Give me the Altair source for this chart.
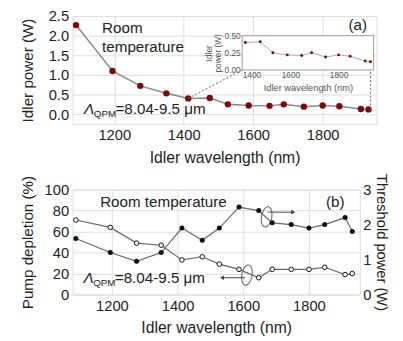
import altair as alt
import pandas as pd

FONT = "Liberation Sans"

# ---- data ----
wavelength = [1090, 1195, 1275, 1350, 1413, 1475, 1527, 1587, 1647, 1688, 1746, 1800, 1848, 1910, 1932]
idler_power = [2.27, 1.10, 0.72, 0.53, 0.40, 0.41, 0.25, 0.22, 0.21, 0.25, 0.19, 0.22, 0.20, 0.13, 0.12]
pump_depletion = [71, 64, 49, 47, 33, 36, 29, 24, 16, 24, 24, 24, 26, 19, 20]
threshold_power = [1.60, 1.20, 0.95, 1.20, 1.90, 1.55, 1.90, 2.50, 2.40, 2.05, 2.00, 1.90, 2.00, 2.20, 1.80]

inset_wavelength = wavelength[4:]
inset_power = idler_power[4:]

XDOM = [1080, 1955]
TOP_W, TOP_H = 310, 110
BOT_W, BOT_H = 293, 107

RED = "#7d0a0a"
LINE_GRAY = "#8a8a8a"

top_df = pd.DataFrame({"wl": wavelength, "p": idler_power})
inset_df = pd.DataFrame({"wl": inset_wavelength, "p": inset_power})
bot_df = pd.DataFrame({"wl": wavelength, "pd": pump_depletion, "th": threshold_power})

common = dict(ticks=False, labelOverlap=False, labelSeparation=0, labelBound=False,
              titleFontWeight="normal", domain=False)

X_AX = alt.Axis(title="Idler wavelength (nm)", values=[1200, 1400, 1600, 1800], format="d",
                labelFontSize=15, titleFontSize=16, labelPadding=4, titlePadding=7,
                labelColor="#222", titleColor="#222", tickCount=4, **common)
Y_TOP_AX = alt.Axis(title="Idler power (W)", values=[0, 0.5, 1.0, 1.5, 2.0, 2.5], format=".1f",
                    labelFontSize=15, titleFontSize=15.5, labelPadding=4, titlePadding=8,
                    minExtent=30, maxExtent=30, labelColor="#222", titleColor="#222", tickCount=6,
                    **common)
Y_PD_AX = alt.Axis(title="Pump depletion (%)", values=[0, 20, 40, 60, 80, 100], format="d",
                   labelFontSize=15, titleFontSize=15.5, labelPadding=4, titlePadding=8,
                   minExtent=30, maxExtent=30, labelColor="#222", titleColor="#222", tickCount=6,
                   **common)
Y_TH_AX = alt.Axis(orient="right", title="Threshold power (W)", values=[0, 1, 2, 3], format="d",
                   labelFontSize=15, titleFontSize=15, labelPadding=3, titlePadding=3,
                   labelColor="#222", titleColor="#222", tickCount=4, **common)

xs_top = alt.Scale(domain=XDOM, nice=False, zero=False)
ys_top = alt.Scale(domain=[-0.25, 2.5], nice=False, zero=False)

def XT(f):
    return alt.X(f, type="quantitative", scale=xs_top, axis=X_AX)
def YT(f):
    return alt.Y(f, type="quantitative", scale=ys_top, axis=Y_TOP_AX)

# ---------- top panel ----------
top_line = alt.Chart(top_df).mark_line(color=LINE_GRAY, strokeWidth=1.5).encode(x=XT("wl"), y=YT("p"))
top_pts = alt.Chart(top_df).mark_circle(color=RED, size=42, opacity=1).encode(x=XT("wl"), y=YT("p"))

conn_df = pd.DataFrame({"x": [1413, 1938], "y": [0.40, 0.12], "x2": [1568, 1938], "y2": [1.125, 1.125]})
conn = alt.Chart(conn_df).mark_rule(color="#666", strokeDash=[2, 2], strokeWidth=1).encode(
    x=XT("x"), y=YT("y"), x2="x2:Q", y2="y2:Q")

room_top = pd.DataFrame({"x": [1165, 1165], "y": [2.2, 1.7], "t": ["Room", "temperature"]})
room_top_t = alt.Chart(room_top).mark_text(align="left", baseline="middle", fontSize=15.5, font=FONT,
                                           color="#222").encode(x=XT("x"), y=YT("y"), text="t:N")
a_df = pd.DataFrame({"x": [1901], "y": [2.27], "t": ["(a)"]})
a_t = alt.Chart(a_df).mark_text(align="center", baseline="middle", fontSize=15.5, font=FONT,
                                color="#222").encode(x=XT("x"), y=YT("y"), text="t:N")

def lam_layers(df, X, Y):
    enc = dict(x=X("x"), y=Y("y"))
    l1 = alt.Chart(df).mark_text(align="left", baseline="middle", fontSize=15.5, font=FONT,
                                 fontStyle="italic", color="#222", text="Λ").encode(**enc)
    l2 = alt.Chart(df).mark_text(align="left", baseline="middle", fontSize=10, font=FONT,
                                 color="#222", text="QPM", dx=10, dy=5).encode(**enc)
    l3 = alt.Chart(df).mark_text(align="left", baseline="middle", fontSize=15.5, font=FONT,
                                 color="#222", text="=8.04-9.5 μm", dx=32).encode(**enc)
    return [l1, l2, l3]

lam_top = pd.DataFrame({"x": [1113], "y": [0.125]})
main_group = alt.layer(top_line, top_pts, conn, room_top_t, a_t, *lam_layers(lam_top, XT, YT))

# inset (own scales, placed via pixel ranges inside the top plot area)
IN_X = [173, 307]
IN_Y = [55, 20]
xs_in = alt.Scale(domain=[1400, 1945], range=IN_X, nice=False, zero=False)
ys_in = alt.Scale(domain=[0, 0.5], range=IN_Y, nice=False, zero=False)
XI_AX = alt.Axis(orient="bottom", offset=-(TOP_H - IN_Y[0]), title="Idler wavelength (nm)",
                 values=[1400, 1600, 1800], format="d", labelFontSize=8.5, titleFontSize=9.5,
                 labelColor="#555", titleColor="#555", labelPadding=1, titlePadding=3, tickCount=3,
                 **common)
YI_AX = alt.Axis(orient="left", offset=-IN_X[0], title=["Idler", "power (W)"],
                 values=[0, 0.25, 0.5], format=".2f", labelFontSize=8.5, titleFontSize=8.5,
                 labelColor="#555", titleColor="#555", labelPadding=2, titlePadding=2,
                 titleLineHeight=9, tickCount=3, **common)
def XI(f):
    return alt.X(f, type="quantitative", scale=xs_in, axis=XI_AX)
def YI(f):
    return alt.Y(f, type="quantitative", scale=ys_in, axis=YI_AX)

frame_df = pd.DataFrame({"x": [1400], "x2": [1945], "y": [0.0], "y2": [0.5]})
in_frame = alt.Chart(frame_df).mark_rect(fill="white", stroke="#999", strokeWidth=1).encode(
    x=XI("x"), x2="x2:Q", y=YI("y"), y2="y2:Q")
in_line = alt.Chart(inset_df).mark_line(color="#aaa", strokeWidth=1).encode(x=XI("wl"), y=YI("p"))
in_pts = alt.Chart(inset_df).mark_circle(color=RED, size=9, opacity=1).encode(x=XI("wl"), y=YI("p"))
inset_group = alt.layer(in_frame, in_line, in_pts)

top = alt.layer(main_group, inset_group).resolve_scale(x="independent", y="independent").properties(
    width=TOP_W, height=TOP_H)

# ---------- bottom panel ----------
xs_bot = alt.Scale(domain=XDOM, nice=False, zero=False)
ys_pd = alt.Scale(domain=[0, 100], nice=False)
ys_th = alt.Scale(domain=[0, 3], nice=False)

def XB(f):
    return alt.X(f, type="quantitative", scale=xs_bot, axis=X_AX)
def YP(f):
    return alt.Y(f, type="quantitative", scale=ys_pd, axis=Y_PD_AX)
def YH(f):
    return alt.Y(f, type="quantitative", scale=ys_th, axis=Y_TH_AX)

pd_line = alt.Chart(bot_df).mark_line(color="#666", strokeWidth=1.2).encode(x=XB("wl"), y=YP("pd"))
pd_pts = alt.Chart(bot_df).mark_point(shape="circle", size=22, filled=True, fill="white", stroke="#111",
                                      strokeWidth=1, opacity=1).encode(x=XB("wl"), y=YP("pd"))

ell_df = pd.DataFrame({"x": [1671, 1611], "y": [74, 18.5]})
ellipse = alt.Chart(ell_df).mark_point(
    shape="M0,-1A0.5,1,0,1,1,0,1A0.5,1,0,1,1,0,-1Z", size=441, filled=False, color="#777",
    strokeWidth=1.2, opacity=1, angle=10).encode(x=XB("x"), y=YP("y"))
arr_df = pd.DataFrame({"x": [1676, 1606], "x2": [1752, 1535], "y": [78.5, 16]})
arrows = alt.Chart(arr_df).mark_rule(color="#444", strokeWidth=1).encode(x=XB("x"), x2="x2:Q", y=YP("y"))
head_r = alt.Chart(arr_df.iloc[[0]]).mark_point(shape="triangle-right", size=22, filled=True,
                                                 color="#444", opacity=1).encode(x=XB("x2"), y=YP("y"))
head_l = alt.Chart(arr_df.iloc[[1]]).mark_point(shape="triangle-left", size=22, filled=True,
                                                 color="#444", opacity=1).encode(x=XB("x2"), y=YP("y"))

room_bot = pd.DataFrame({"x": [1164], "y": [88], "t": ["Room temperature"]})
room_bot_t = alt.Chart(room_bot).mark_text(align="left", baseline="middle", fontSize=15.5, font=FONT,
                                           color="#222").encode(x=XB("x"), y=YP("y"), text="t:N")
b_df = pd.DataFrame({"x": [1880], "y": [88], "t": ["(b)"]})
b_t = alt.Chart(b_df).mark_text(align="center", baseline="middle", fontSize=15.5, font=FONT,
                                color="#222").encode(x=XB("x"), y=YP("y"), text="t:N")
lam_bot = pd.DataFrame({"x": [1113], "y": [16]})

left_group = alt.layer(pd_line, pd_pts, ellipse, arrows, head_r, head_l, room_bot_t, b_t,
                       *lam_layers(lam_bot, XB, YP))

th_line = alt.Chart(bot_df).mark_line(color="#666", strokeWidth=1.2).encode(x=XB("wl"), y=YH("th"))
th_pts = alt.Chart(bot_df).mark_circle(color="#111", size=26, opacity=1).encode(x=XB("wl"), y=YH("th"))
right_group = alt.layer(th_line, th_pts)

bottom = alt.layer(left_group, right_group).resolve_scale(y="independent").properties(
    width=BOT_W, height=BOT_H)

chart = alt.vconcat(top, bottom, spacing=67, bounds="flush").properties(
    padding={"left": 20, "top": 5, "right": 14, "bottom": 0}
).configure_view(stroke="#999", strokeWidth=1.2).configure_axis(
    grid=False, labelFont=FONT, titleFont=FONT
).configure(background="white")

chart.save("out.html", embed_options={"renderer": "svg", "actions": False})
